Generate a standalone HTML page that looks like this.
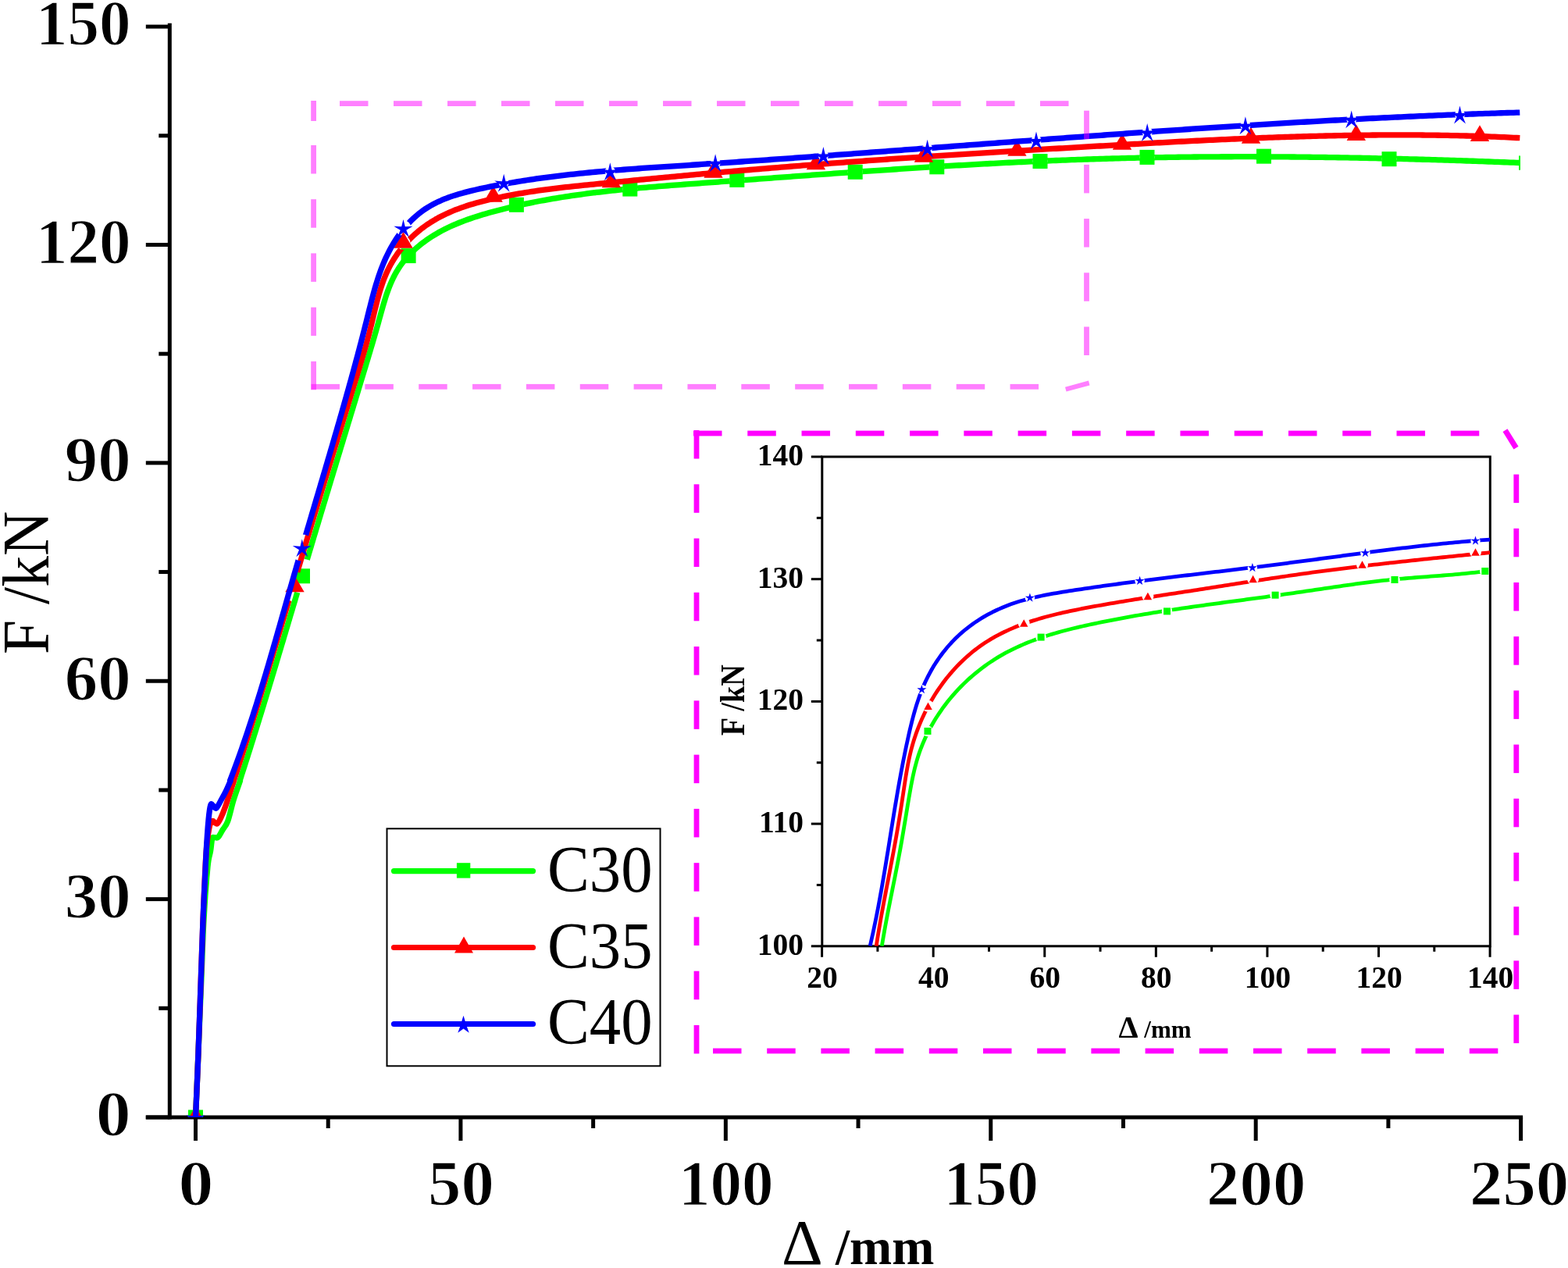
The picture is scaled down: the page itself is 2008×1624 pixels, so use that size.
<!DOCTYPE html><html><head><meta charset="utf-8"><title>F-Δ curves</title><style>html,body{margin:0;padding:0;background:#fff;overflow:hidden;}svg{display:block;}.tb{font-family:"Liberation Serif","Times New Roman",serif;font-weight:bold;}.thin{stroke:#fff;stroke-width:1.3px;paint-order:fill;}.tr{font-family:"Liberation Serif","Times New Roman",serif;font-weight:normal;}</style></head><body>
<svg width="2008" height="1624" viewBox="0 0 2008 1624">
<rect width="2008" height="1624" fill="#fff"/>
<defs><clipPath id="cpMain"><rect x="217" y="0" width="1730" height="1431"/></clipPath><clipPath id="cpIn"><rect x="1052.6" y="585" width="855.6" height="626.8"/></clipPath></defs>
<g stroke="#000" stroke-width="5" fill="none" stroke-linecap="butt">
<line x1="217.3" y1="29.8" x2="217.3" y2="1433.5"/>
<line x1="186.8" y1="1431" x2="1950.1" y2="1431"/>
<line x1="186.8" y1="1431" x2="217.3" y2="1431"/>
<line x1="203.3" y1="1291.31" x2="217.3" y2="1291.31"/>
<line x1="186.8" y1="1151.62" x2="217.3" y2="1151.62"/>
<line x1="203.3" y1="1011.93" x2="217.3" y2="1011.93"/>
<line x1="186.8" y1="872.24" x2="217.3" y2="872.24"/>
<line x1="203.3" y1="732.55" x2="217.3" y2="732.55"/>
<line x1="186.8" y1="592.86" x2="217.3" y2="592.86"/>
<line x1="203.3" y1="453.17" x2="217.3" y2="453.17"/>
<line x1="186.8" y1="313.48" x2="217.3" y2="313.48"/>
<line x1="203.3" y1="173.79" x2="217.3" y2="173.79"/>
<line x1="186.8" y1="34.1" x2="217.3" y2="34.1"/>
<line x1="250.5" y1="1431" x2="250.5" y2="1461"/>
<line x1="420.21" y1="1431" x2="420.21" y2="1445"/>
<line x1="589.92" y1="1431" x2="589.92" y2="1461"/>
<line x1="759.63" y1="1431" x2="759.63" y2="1445"/>
<line x1="929.34" y1="1431" x2="929.34" y2="1461"/>
<line x1="1099.05" y1="1431" x2="1099.05" y2="1445"/>
<line x1="1268.76" y1="1431" x2="1268.76" y2="1461"/>
<line x1="1438.47" y1="1431" x2="1438.47" y2="1445"/>
<line x1="1608.18" y1="1431" x2="1608.18" y2="1461"/>
<line x1="1777.89" y1="1431" x2="1777.89" y2="1445"/>
<line x1="1947.6" y1="1431" x2="1947.6" y2="1461"/>
</g>
<text class="tb thin" font-size="82.3" text-anchor="end" transform="translate(167.6,1454.3) scale(1.09,1)">0</text>
<text class="tb thin" font-size="82.3" text-anchor="end" transform="translate(167.6,1174.92) scale(1.03,1)">30</text>
<text class="tb thin" font-size="82.3" text-anchor="end" transform="translate(167.6,895.54) scale(1.03,1)">60</text>
<text class="tb thin" font-size="82.3" text-anchor="end" transform="translate(167.6,616.16) scale(1.03,1)">90</text>
<text class="tb thin" font-size="82.3" text-anchor="end" transform="translate(167.6,336.78) scale(0.985,1)">120</text>
<text class="tb thin" font-size="82.3" text-anchor="end" transform="translate(167.6,57.4) scale(0.985,1)">150</text>
<text class="tb thin" font-size="82.3" text-anchor="middle" transform="translate(251,1543.4) scale(1.09,1)">0</text>
<text class="tb thin" font-size="82.3" text-anchor="middle" transform="translate(590.42,1543.4) scale(1.03,1)">50</text>
<text class="tb thin" font-size="82.3" text-anchor="middle" transform="translate(929.84,1543.4) scale(0.985,1)">100</text>
<text class="tb thin" font-size="82.3" text-anchor="middle" transform="translate(1269.26,1543.4) scale(0.985,1)">150</text>
<text class="tb thin" font-size="82.3" text-anchor="middle" transform="translate(1608.68,1543.4) scale(1.03,1)">200</text>
<text class="tb thin" font-size="82.3" text-anchor="middle" transform="translate(1945.6,1543.4) scale(1.03,1)">250</text>
<text class="tr" font-size="85.5" transform="translate(61.6,838) rotate(-90) scale(0.93,1)" x="0" y="0">F /kN</text>
<text x="1001" y="1619"><tspan class="tr" font-size="82">Δ</tspan><tspan class="tb" font-size="65"> /mm</tspan></text>
<defs>
<mask id="mg" maskUnits="userSpaceOnUse" x="0" y="0" width="2008" height="1624"><rect width="2008" height="1624" fill="#fff"/><circle cx="387.5" cy="737.8" r="22" fill="#000"/><circle cx="523.1" cy="327.6" r="9.5" fill="#000"/><circle cx="661.4" cy="262.3" r="9.5" fill="#000"/><circle cx="806.8" cy="242.07" r="9.5" fill="#000"/><circle cx="943.8" cy="230.4" r="9.5" fill="#000"/><circle cx="1095.2" cy="220.29" r="9.5" fill="#000"/><circle cx="1199.8" cy="213.81" r="9.5" fill="#000"/><circle cx="1332" cy="206.54" r="9.5" fill="#000"/><circle cx="1469" cy="201.41" r="9.5" fill="#000"/><circle cx="1618.5" cy="200.15" r="9.5" fill="#000"/><circle cx="1779" cy="203.68" r="9.5" fill="#000"/></mask>
<mask id="mr" maskUnits="userSpaceOnUse" x="0" y="0" width="2008" height="1624"><rect width="2008" height="1624" fill="#fff"/><circle cx="377.5" cy="751.5" r="19" fill="#000"/><circle cx="516.5" cy="311" r="9" fill="#000"/><circle cx="631.6" cy="252" r="6" fill="#000"/><circle cx="782.9" cy="233.66" r="6" fill="#000"/><circle cx="913.5" cy="221.05" r="6" fill="#000"/><circle cx="1044.9" cy="210.65" r="6" fill="#000"/><circle cx="1182.9" cy="201" r="6" fill="#000"/><circle cx="1302.4" cy="193.22" r="6" fill="#000"/><circle cx="1437" cy="185.14" r="6" fill="#000"/><circle cx="1602" cy="177.04" r="6" fill="#000"/><circle cx="1736.8" cy="173.24" r="6" fill="#000"/><circle cx="1895" cy="174.36" r="6" fill="#000"/></mask>
<mask id="mb" maskUnits="userSpaceOnUse" x="0" y="0" width="2008" height="1624"><rect width="2008" height="1624" fill="#fff"/><circle cx="386.8" cy="701.5" r="17" fill="#000"/><circle cx="516.5" cy="292.1" r="10" fill="#000"/><circle cx="645.2" cy="233.9" r="6.5" fill="#000"/><circle cx="781.3" cy="219.39" r="6.5" fill="#000"/><circle cx="916.1" cy="208.57" r="6.5" fill="#000"/><circle cx="1054.4" cy="199.19" r="6.5" fill="#000"/><circle cx="1187.6" cy="190.02" r="6.5" fill="#000"/><circle cx="1327" cy="179.79" r="6.5" fill="#000"/><circle cx="1469.2" cy="169.18" r="6.5" fill="#000"/><circle cx="1594.9" cy="160.45" r="6.5" fill="#000"/><circle cx="1730.7" cy="152.58" r="6.5" fill="#000"/><circle cx="1869.5" cy="146.71" r="6.5" fill="#000"/></mask>
<mask id="ig" maskUnits="userSpaceOnUse" x="0" y="0" width="2008" height="1624"><rect width="2008" height="1624" fill="#fff"/><circle cx="1188" cy="936.4" r="6.8" fill="#000"/><circle cx="1333.1" cy="816.1" r="6.8" fill="#000"/><circle cx="1494.5" cy="782.9" r="6.8" fill="#000"/><circle cx="1633.1" cy="762.2" r="6.8" fill="#000"/><circle cx="1786" cy="742.5" r="6.8" fill="#000"/><circle cx="1901.8" cy="731.5" r="6.8" fill="#000"/></mask>
<mask id="ir" maskUnits="userSpaceOnUse" x="0" y="0" width="2008" height="1624"><rect width="2008" height="1624" fill="#fff"/><circle cx="1188.5" cy="904.2" r="7.5" fill="#000"/><circle cx="1311.2" cy="798.1" r="7.5" fill="#000"/><circle cx="1469.9" cy="763.4" r="7.5" fill="#000"/><circle cx="1604.6" cy="741.4" r="7.5" fill="#000"/><circle cx="1744.5" cy="723.1" r="7.5" fill="#000"/><circle cx="1889.5" cy="706.9" r="7.5" fill="#000"/></mask>
<mask id="ib" maskUnits="userSpaceOnUse" x="0" y="0" width="2008" height="1624"><rect width="2008" height="1624" fill="#fff"/><circle cx="1180.4" cy="883.2" r="6.2" fill="#000"/><circle cx="1318.9" cy="765.7" r="6.2" fill="#000"/><circle cx="1459.6" cy="744" r="6.2" fill="#000"/><circle cx="1603.9" cy="727.2" r="6.2" fill="#000"/><circle cx="1748.4" cy="708.2" r="6.2" fill="#000"/><circle cx="1889.5" cy="692.7" r="6.2" fill="#000"/></mask>
</defs>
<g clip-path="url(#cpMain)">
<path d="M250.5,1431 C251.08,1417.17 252.83,1376 254,1348 C255.17,1320 256.33,1291.33 257.5,1263 C258.67,1234.67 259.58,1203.5 261,1178 C262.42,1152.5 264.57,1124.67 266,1110 C267.43,1095.33 268.63,1096 269.6,1090 C270.57,1084 270.9,1076.9 271.8,1074 C272.7,1071.1 273.77,1072.87 275,1072.6 C276.23,1072.33 277.53,1074 279.2,1072.4 C280.87,1070.8 282.92,1066.45 285,1063 C287.08,1059.55 289.37,1058.03 291.7,1051.7 C294.03,1045.37 296.37,1033.62 299,1025 C301.63,1016.38 306.08,1004.17 307.5,1000 L307.06,999.87 L308.3,996.05 L309.53,992.23 L310.76,988.41 L311.99,984.58 L313.22,980.76 L314.44,976.94 L315.66,973.11 L316.88,969.29 L318.09,965.46 L319.3,961.63 L320.51,957.8 L321.71,953.97 L322.91,950.14 L324.11,946.31 L325.31,942.48 L326.51,938.65 L327.7,934.82 L328.89,930.98 L330.08,927.15 L331.26,923.32 L332.44,919.48 L333.63,915.64 L334.8,911.81 L335.98,907.97 L337.16,904.13 L338.33,900.29 L339.5,896.46 L340.67,892.62 L341.84,888.78 L343,884.94 L344.17,881.1 L345.33,877.25 L346.49,873.41 L347.65,869.57 L348.81,865.73 L349.97,861.89 L351.12,858.04 L352.28,854.2 L353.43,850.36 L354.59,846.51 L355.74,842.67 L356.89,838.82 L358.04,834.98 L359.19,831.13 L360.33,827.29 L361.48,823.44 L362.63,819.59 L363.77,815.75 L364.92,811.9 L366.07,808.06 L367.21,804.21 L368.35,800.36 L369.5,796.51 L370.64,792.67 L371.79,788.82 L372.93,784.97 L374.07,781.13 L375.22,777.28 L376.36,773.43 L377.5,769.59 L378.65,765.74 L379.79,761.89 L380.94,758.04 L382.08,754.2 L383.22,750.35 L384.37,746.5 L385.52,742.66 L386.66,738.81 L387.81,734.96 L388.96,731.12 L390.11,727.27 L391.26,723.42 L392.41,719.58 L393.56,715.73 L394.71,711.89 L395.86,708.04 L397.01,704.2 L398.16,700.35 L399.32,696.51 L400.47,692.66 L401.62,688.82 L402.78,684.97 L403.93,681.13 L405.09,677.28 L406.25,673.44 L407.4,669.6 L408.56,665.75 L409.72,661.91 L410.87,658.06 L412.03,654.22 L413.19,650.38 L414.35,646.53 L415.51,642.69 L416.67,638.85 L417.83,635 L418.99,631.16 L420.15,627.32 L421.31,623.48 L422.47,619.63 L423.64,615.79 L424.8,611.95 L425.96,608.11 L427.12,604.27 L428.28,600.42 L429.45,596.58 L430.61,592.74 L431.77,588.9 L432.94,585.06 L434.1,581.22 L435.27,577.37 L436.43,573.53 L437.59,569.69 L438.76,565.85 L439.92,562.01 L441.09,558.17 L442.25,554.33 L443.42,550.49 L444.58,546.65 L445.75,542.81 L446.91,538.97 L448.08,535.13 L449.24,531.29 L450.41,527.45 L451.57,523.61 L452.74,519.77 L453.9,515.93 L455.07,512.09 L456.23,508.25 L457.39,504.41 L458.56,500.57 L459.72,496.73 L460.89,492.89 L462.05,489.05 L463.22,485.21 L464.38,481.37 L465.55,477.54 L466.71,473.7 L467.87,469.86 L469.03,466.02 L470.19,462.18 L471.35,458.33 L472.5,454.49 L473.65,450.64 L474.8,446.79 L475.94,442.94 L477.08,439.09 L478.21,435.23 L479.34,431.37 L480.46,427.51 L481.57,423.64 L482.67,419.76 L483.77,415.88 L484.86,412 L485.94,408.11 L487.01,404.22 L488.09,400.33 L489.17,396.44 L490.28,392.56 L491.4,388.7 L492.56,384.86 L493.76,381.03 L495,377.24 L496.3,373.47 L497.67,369.74 L499.1,366.05 L500.61,362.41 L502.21,358.82 L503.9,355.27 L505.69,351.79 L507.59,348.37 L509.61,345.01 L511.75,341.73 L514.01,338.52 L516.39,335.38 L518.87,332.31 L521.47,329.32 L524.17,326.4 L526.96,323.56 L529.84,320.79 L532.81,318.09 L535.86,315.47 L538.99,312.93 L542.18,310.46 L545.44,308.07 L548.76,305.76 L552.13,303.52 L555.56,301.36 L559.03,299.28 L562.53,297.27 L566.07,295.35 L569.65,293.49 L573.26,291.71 L576.9,290 L580.56,288.35 L584.25,286.77 L587.97,285.25 L591.71,283.78 L595.47,282.36 L599.25,281 L603.05,279.68 L606.86,278.41 L610.69,277.17 L614.54,275.98 L618.39,274.82 L622.25,273.7 L626.12,272.6 L630,271.53 L633.88,270.48 L637.76,269.46 L641.65,268.46 L645.54,267.47 L649.44,266.52 L653.34,265.58 L657.24,264.66 L661.15,263.76 L665.06,262.89 L668.97,262.03 L672.89,261.19 L676.81,260.37 L680.73,259.57 L684.65,258.79 L688.58,258.02 L692.51,257.28 L696.45,256.55 L700.39,255.84 L704.33,255.14 L708.27,254.46 L712.22,253.8 L716.17,253.15 L720.12,252.52 L724.07,251.91 L728.03,251.3 L731.99,250.72 L735.95,250.14 L739.91,249.58 L743.88,249.03 L747.85,248.5 L751.82,247.98 L755.79,247.47 L759.76,246.97 L763.74,246.49 L767.72,246.01 L771.7,245.55 L775.68,245.1 L779.66,244.65 L783.65,244.22 L787.63,243.8 L791.62,243.38 L795.61,242.98 L799.6,242.58 L803.6,242.2 L807.59,241.82 L811.59,241.44 L815.58,241.08 L819.58,240.72 L823.58,240.37 L827.58,240.02 L831.58,239.68 L835.58,239.35 L839.58,239.02 L843.59,238.69 L847.59,238.37 L851.6,238.06 L855.6,237.75 L859.61,237.44 L863.61,237.13 L867.62,236.83 L871.63,236.53 L875.64,236.24 L879.64,235.94 L883.65,235.65 L887.66,235.35 L891.67,235.06 L895.68,234.77 L899.68,234.48 L903.69,234.19 L907.7,233.89 L911.71,233.6 L915.72,233.31 L919.72,233.02 L923.73,232.72 L927.74,232.43 L931.75,232.14 L935.75,231.84 L939.76,231.55 L943.77,231.25 L947.78,230.96 L951.78,230.67 L955.79,230.37 L959.8,230.08 L963.8,229.78 L967.81,229.49 L971.82,229.2 L975.82,228.9 L979.83,228.61 L983.84,228.31 L987.84,228.02 L991.85,227.73 L995.85,227.43 L999.86,227.14 L1003.87,226.85 L1007.87,226.56 L1011.88,226.27 L1015.88,225.97 L1019.89,225.68 L1023.9,225.39 L1027.9,225.1 L1031.91,224.81 L1035.91,224.52 L1039.92,224.23 L1043.92,223.95 L1047.93,223.66 L1051.93,223.37 L1055.94,223.09 L1059.95,222.8 L1063.95,222.52 L1067.96,222.23 L1071.96,221.95 L1075.97,221.66 L1079.97,221.38 L1083.98,221.1 L1087.98,220.82 L1091.99,220.54 L1095.99,220.26 L1100,219.99 L1104,219.71 L1108.01,219.43 L1112.01,219.16 L1116.02,218.89 L1120.02,218.61 L1124.03,218.34 L1128.03,218.07 L1132.04,217.8 L1136.04,217.53 L1140.05,217.27 L1144.05,217 L1148.06,216.74 L1152.07,216.47 L1156.07,216.21 L1160.08,215.95 L1164.08,215.69 L1168.09,215.43 L1172.09,215.18 L1176.1,214.92 L1180.1,214.67 L1184.11,214.42 L1188.11,214.17 L1192.12,213.92 L1196.12,213.67 L1200.13,213.42 L1204.14,213.18 L1208.14,212.94 L1212.15,212.7 L1216.15,212.46 L1220.16,212.22 L1224.16,211.98 L1228.17,211.75 L1232.18,211.52 L1236.18,211.29 L1240.19,211.06 L1244.19,210.83 L1248.2,210.61 L1252.21,210.38 L1256.21,210.16 L1260.22,209.94 L1264.23,209.73 L1268.23,209.51 L1272.24,209.3 L1276.25,209.09 L1280.25,208.88 L1284.26,208.67 L1288.27,208.47 L1292.27,208.27 L1296.28,208.07 L1300.29,207.87 L1304.3,207.67 L1308.3,207.48 L1312.31,207.29 L1316.32,207.1 L1320.33,206.91 L1324.33,206.73 L1328.34,206.55 L1332.35,206.37 L1336.36,206.19 L1340.37,206.02 L1344.37,205.85 L1348.38,205.68 L1352.39,205.51 L1356.4,205.35 L1360.41,205.19 L1364.42,205.03 L1368.43,204.88 L1372.44,204.72 L1376.45,204.57 L1380.46,204.43 L1384.46,204.28 L1388.47,204.14 L1392.48,204 L1396.49,203.87 L1400.5,203.73 L1404.51,203.6 L1408.53,203.48 L1412.54,203.35 L1416.55,203.23 L1420.56,203.11 L1424.57,203 L1428.58,202.89 L1432.59,202.78 L1436.6,202.67 L1440.61,202.57 L1444.63,202.47 L1448.64,202.37 L1452.65,202.28 L1456.66,202.18 L1460.67,202.1 L1464.69,202.01 L1468.7,201.93 L1472.71,201.85 L1476.73,201.77 L1480.74,201.7 L1484.75,201.63 L1488.76,201.56 L1492.78,201.49 L1496.79,201.43 L1500.8,201.37 L1504.82,201.31 L1508.83,201.26 L1512.84,201.2 L1516.86,201.15 L1520.87,201.11 L1524.89,201.06 L1528.9,201.02 L1532.91,200.98 L1536.93,200.95 L1540.94,200.91 L1544.96,200.88 L1548.97,200.85 L1552.99,200.83 L1557,200.81 L1561.01,200.79 L1565.03,200.77 L1569.04,200.75 L1573.06,200.74 L1577.07,200.73 L1581.09,200.72 L1585.1,200.71 L1589.12,200.71 L1593.13,200.71 L1597.15,200.71 L1601.16,200.72 L1605.18,200.72 L1609.19,200.73 L1613.21,200.74 L1617.22,200.76 L1621.24,200.77 L1625.25,200.79 L1629.27,200.81 L1633.28,200.83 L1637.3,200.86 L1641.31,200.89 L1645.33,200.92 L1649.34,200.95 L1653.36,200.98 L1657.37,201.02 L1661.39,201.06 L1665.4,201.1 L1669.42,201.14 L1673.43,201.18 L1677.44,201.23 L1681.46,201.28 L1685.47,201.33 L1689.49,201.38 L1693.5,201.44 L1697.52,201.5 L1701.53,201.56 L1705.55,201.62 L1709.56,201.68 L1713.58,201.75 L1717.59,201.82 L1721.6,201.88 L1725.62,201.96 L1729.63,202.03 L1733.65,202.11 L1737.66,202.18 L1741.68,202.26 L1745.69,202.34 L1749.7,202.43 L1753.72,202.51 L1757.73,202.6 L1761.74,202.69 L1765.76,202.78 L1769.77,202.87 L1773.78,202.96 L1777.8,203.06 L1781.81,203.16 L1785.82,203.26 L1789.84,203.36 L1793.85,203.46 L1797.86,203.56 L1801.87,203.67 L1805.89,203.78 L1809.9,203.89 L1813.91,204 L1817.92,204.11 L1821.93,204.23 L1825.95,204.34 L1829.96,204.46 L1833.97,204.58 L1837.98,204.7 L1841.99,204.82 L1846,204.95 L1850.01,205.07 L1854.02,205.2 L1858.04,205.33 L1862.05,205.46 L1866.06,205.59 L1870.07,205.72 L1874.08,205.86 L1878.09,205.99 L1882.1,206.13 L1886.1,206.27 L1890.11,206.41 L1894.12,206.55 L1898.13,206.69 L1902.14,206.84 L1906.15,206.98 L1910.16,207.13 L1914.17,207.28 L1918.17,207.43 L1922.18,207.58 L1926.19,207.73 L1930.2,207.88 L1934.2,208.04 L1938.21,208.19 L1942.22,208.35 L1946.22,208.51" fill="none" stroke="#00ff00" stroke-width="7.3" stroke-linejoin="round" stroke-linecap="butt" mask="url(#mg)"/>
<rect x="241" y="1421.5" width="19" height="19" fill="#00ff00"/>
<rect x="378" y="728.3" width="19" height="19" fill="#00ff00"/>
<rect x="513.6" y="318.1" width="19" height="19" fill="#00ff00"/>
<rect x="651.9" y="252.8" width="19" height="19" fill="#00ff00"/>
<rect x="797.3" y="232.57" width="19" height="19" fill="#00ff00"/>
<rect x="934.3" y="220.9" width="19" height="19" fill="#00ff00"/>
<rect x="1085.7" y="210.79" width="19" height="19" fill="#00ff00"/>
<rect x="1190.3" y="204.31" width="19" height="19" fill="#00ff00"/>
<rect x="1322.5" y="197.04" width="19" height="19" fill="#00ff00"/>
<rect x="1459.5" y="191.91" width="19" height="19" fill="#00ff00"/>
<rect x="1609" y="190.65" width="19" height="19" fill="#00ff00"/>
<rect x="1769.5" y="194.18" width="19" height="19" fill="#00ff00"/>
<path d="M250.5,1431 C251.08,1417.17 252.92,1376 254,1348 C255.08,1320 256,1291.33 257,1263 C258,1234.67 258.83,1206.33 260,1178 C261.17,1149.67 262.67,1112.67 264,1093 C265.33,1073.33 266.7,1066.88 268,1060 C269.3,1053.12 270.63,1052.78 271.8,1051.7 C272.97,1050.62 273.9,1053 275,1053.5 C276.1,1054 277.07,1055.78 278.4,1054.7 C279.73,1053.62 281.23,1050.78 283,1047 C284.77,1043.22 286.25,1039.83 289,1032 C291.75,1024.17 297.75,1005.33 299.5,1000 L299.32,999.99 L300.58,996.17 L301.83,992.35 L303.07,988.52 L304.31,984.7 L305.55,980.87 L306.78,977.04 L308.01,973.21 L309.23,969.39 L310.45,965.56 L311.67,961.73 L312.88,957.9 L314.09,954.07 L315.3,950.23 L316.5,946.4 L317.7,942.57 L318.9,938.74 L320.09,934.9 L321.28,931.07 L322.47,927.23 L323.65,923.4 L324.84,919.56 L326.02,915.72 L327.19,911.88 L328.37,908.05 L329.54,904.21 L330.71,900.37 L331.88,896.53 L333.04,892.69 L334.21,888.85 L335.37,885.01 L336.53,881.17 L337.68,877.33 L338.84,873.48 L339.99,869.64 L341.15,865.8 L342.3,861.95 L343.45,858.11 L344.6,854.27 L345.74,850.42 L346.89,846.58 L348.03,842.73 L349.18,838.89 L350.32,835.04 L351.46,831.2 L352.6,827.35 L353.74,823.5 L354.88,819.66 L356.02,815.81 L357.16,811.96 L358.3,808.11 L359.44,804.27 L360.57,800.42 L361.71,796.57 L362.85,792.72 L363.99,788.87 L365.13,785.03 L366.26,781.18 L367.4,777.33 L368.54,773.48 L369.68,769.63 L370.82,765.78 L371.96,761.93 L373.1,758.09 L374.24,754.24 L375.38,750.39 L376.53,746.54 L377.67,742.69 L378.82,738.84 L379.96,734.99 L381.11,731.14 L382.26,727.29 L383.41,723.44 L384.56,719.59 L385.71,715.75 L386.86,711.9 L388.01,708.05 L389.16,704.2 L390.32,700.35 L391.47,696.5 L392.63,692.66 L393.78,688.81 L394.94,684.96 L396.1,681.11 L397.26,677.26 L398.42,673.42 L399.58,669.57 L400.74,665.72 L401.9,661.88 L403.06,658.03 L404.22,654.18 L405.38,650.34 L406.55,646.49 L407.71,642.65 L408.88,638.8 L410.04,634.96 L411.21,631.11 L412.37,627.27 L413.54,623.43 L414.71,619.58 L415.87,615.74 L417.04,611.9 L418.21,608.06 L419.38,604.22 L420.55,600.37 L421.72,596.53 L422.89,592.69 L424.06,588.85 L425.23,585.01 L426.4,581.18 L427.58,577.34 L428.75,573.5 L429.92,569.66 L431.09,565.83 L432.27,561.99 L433.44,558.15 L434.62,554.32 L435.79,550.48 L436.96,546.65 L438.14,542.82 L439.31,538.98 L440.49,535.15 L441.67,531.32 L442.84,527.49 L444.02,523.66 L445.19,519.83 L446.37,516 L447.55,512.17 L448.72,508.35 L449.9,504.52 L451.08,500.69 L452.25,496.87 L453.43,493.04 L454.61,489.22 L455.78,485.4 L456.96,481.57 L458.13,477.75 L459.3,473.92 L460.46,470.09 L461.62,466.26 L462.77,462.43 L463.91,458.58 L465.04,454.74 L466.17,450.88 L467.27,447.02 L468.37,443.15 L469.45,439.28 L470.52,435.39 L471.56,431.49 L472.6,427.58 L473.61,423.66 L474.6,419.73 L475.57,415.78 L476.52,411.82 L477.47,407.86 L478.41,403.89 L479.36,399.93 L480.32,395.97 L481.29,392.01 L482.28,388.07 L483.31,384.14 L484.36,380.22 L485.46,376.33 L486.61,372.46 L487.8,368.62 L489.06,364.82 L490.38,361.04 L491.78,357.31 L493.25,353.62 L494.81,349.97 L496.46,346.37 L498.2,342.82 L500.04,339.33 L501.98,335.89 L504.01,332.51 L506.13,329.19 L508.34,325.93 L510.64,322.73 L513.03,319.6 L515.5,316.52 L518.05,313.52 L520.68,310.58 L523.38,307.7 L526.16,304.9 L529.02,302.17 L531.94,299.51 L534.94,296.93 L538,294.42 L541.12,291.99 L544.31,289.63 L547.55,287.36 L550.86,285.17 L554.22,283.06 L557.63,281.03 L561.1,279.08 L564.61,277.22 L568.17,275.43 L571.78,273.71 L575.42,272.07 L579.11,270.5 L582.83,268.99 L586.58,267.55 L590.37,266.17 L594.18,264.84 L598.02,263.57 L601.88,262.35 L605.76,261.18 L609.66,260.06 L613.58,258.99 L617.51,257.95 L621.45,256.96 L625.39,256 L629.34,255.07 L633.3,254.17 L637.25,253.3 L641.21,252.46 L645.17,251.65 L649.12,250.86 L653.08,250.1 L657.04,249.36 L661,248.65 L664.96,247.95 L668.92,247.28 L672.88,246.63 L676.85,246.01 L680.81,245.4 L684.77,244.81 L688.74,244.23 L692.7,243.68 L696.67,243.14 L700.64,242.61 L704.61,242.1 L708.58,241.6 L712.55,241.12 L716.52,240.65 L720.49,240.19 L724.47,239.74 L728.44,239.3 L732.41,238.87 L736.39,238.45 L740.37,238.03 L744.35,237.62 L748.32,237.22 L752.3,236.82 L756.29,236.42 L760.27,236.03 L764.25,235.64 L768.23,235.25 L772.22,234.86 L776.21,234.48 L780.19,234.09 L784.18,233.7 L788.17,233.31 L792.16,232.93 L796.15,232.54 L800.14,232.15 L804.13,231.76 L808.13,231.38 L812.12,230.99 L816.12,230.61 L820.11,230.22 L824.11,229.84 L828.1,229.45 L832.1,229.07 L836.1,228.69 L840.1,228.3 L844.1,227.92 L848.1,227.54 L852.09,227.16 L856.09,226.79 L860.1,226.41 L864.1,226.04 L868.1,225.66 L872.1,225.29 L876.1,224.92 L880.1,224.55 L884.1,224.18 L888.1,223.81 L892.11,223.45 L896.11,223.08 L900.11,222.72 L904.11,222.36 L908.11,222 L912.11,221.64 L916.12,221.29 L920.12,220.94 L924.12,220.58 L928.12,220.23 L932.13,219.89 L936.13,219.54 L940.13,219.19 L944.13,218.85 L948.13,218.51 L952.14,218.17 L956.14,217.83 L960.14,217.49 L964.14,217.15 L968.15,216.82 L972.15,216.49 L976.15,216.15 L980.15,215.82 L984.16,215.5 L988.16,215.17 L992.16,214.84 L996.16,214.52 L1000.17,214.2 L1004.17,213.87 L1008.17,213.55 L1012.17,213.24 L1016.18,212.92 L1020.18,212.6 L1024.18,212.29 L1028.19,211.98 L1032.19,211.66 L1036.19,211.35 L1040.2,211.05 L1044.2,210.74 L1048.2,210.43 L1052.21,210.13 L1056.21,209.82 L1060.21,209.52 L1064.22,209.22 L1068.22,208.92 L1072.22,208.62 L1076.23,208.33 L1080.23,208.03 L1084.23,207.73 L1088.24,207.44 L1092.24,207.15 L1096.24,206.86 L1100.25,206.57 L1104.25,206.28 L1108.26,205.99 L1112.26,205.7 L1116.26,205.42 L1120.27,205.14 L1124.27,204.85 L1128.28,204.57 L1132.28,204.29 L1136.28,204.01 L1140.29,203.73 L1144.29,203.45 L1148.3,203.18 L1152.3,202.9 L1156.31,202.63 L1160.31,202.35 L1164.31,202.08 L1168.32,201.81 L1172.32,201.54 L1176.33,201.27 L1180.33,201 L1184.34,200.73 L1188.34,200.47 L1192.35,200.2 L1196.35,199.94 L1200.36,199.67 L1204.36,199.41 L1208.37,199.15 L1212.37,198.89 L1216.38,198.63 L1220.38,198.37 L1224.39,198.11 L1228.39,197.85 L1232.4,197.6 L1236.41,197.34 L1240.41,197.09 L1244.42,196.83 L1248.42,196.58 L1252.43,196.33 L1256.43,196.08 L1260.44,195.83 L1264.45,195.58 L1268.45,195.33 L1272.46,195.08 L1276.46,194.83 L1280.47,194.58 L1284.48,194.34 L1288.48,194.09 L1292.49,193.84 L1296.5,193.6 L1300.5,193.36 L1304.51,193.11 L1308.52,192.87 L1312.52,192.63 L1316.53,192.39 L1320.54,192.15 L1324.54,191.91 L1328.55,191.67 L1332.56,191.43 L1336.56,191.19 L1340.57,190.95 L1344.58,190.72 L1348.59,190.48 L1352.59,190.25 L1356.6,190.01 L1360.61,189.78 L1364.62,189.54 L1368.62,189.31 L1372.63,189.07 L1376.64,188.84 L1380.65,188.61 L1384.65,188.38 L1388.66,188.15 L1392.67,187.91 L1396.68,187.68 L1400.69,187.45 L1404.69,187.22 L1408.7,186.99 L1412.71,186.77 L1416.72,186.54 L1420.73,186.31 L1424.74,186.08 L1428.75,185.85 L1432.75,185.63 L1436.76,185.4 L1440.77,185.17 L1444.78,184.95 L1448.79,184.73 L1452.8,184.5 L1456.81,184.28 L1460.82,184.06 L1464.83,183.84 L1468.84,183.61 L1472.85,183.4 L1476.85,183.18 L1480.86,182.96 L1484.87,182.74 L1488.88,182.53 L1492.89,182.31 L1496.9,182.1 L1500.91,181.89 L1504.92,181.68 L1508.93,181.47 L1512.94,181.26 L1516.95,181.06 L1520.96,180.85 L1524.97,180.65 L1528.98,180.45 L1532.99,180.25 L1537,180.05 L1541.02,179.85 L1545.03,179.66 L1549.04,179.47 L1553.05,179.28 L1557.06,179.09 L1561.07,178.9 L1565.08,178.71 L1569.09,178.53 L1573.1,178.35 L1577.11,178.17 L1581.12,177.99 L1585.14,177.82 L1589.15,177.65 L1593.16,177.48 L1597.17,177.31 L1601.18,177.14 L1605.19,176.98 L1609.2,176.82 L1613.21,176.66 L1617.23,176.51 L1621.24,176.35 L1625.25,176.2 L1629.26,176.06 L1633.27,175.91 L1637.29,175.77 L1641.3,175.63 L1645.31,175.49 L1649.32,175.36 L1653.33,175.23 L1657.35,175.1 L1661.36,174.98 L1665.37,174.86 L1669.38,174.74 L1673.4,174.62 L1677.41,174.51 L1681.42,174.4 L1685.43,174.3 L1689.45,174.19 L1693.46,174.1 L1697.47,174 L1701.48,173.91 L1705.5,173.82 L1709.51,173.74 L1713.52,173.66 L1717.53,173.58 L1721.55,173.51 L1725.56,173.44 L1729.57,173.37 L1733.59,173.31 L1737.6,173.25 L1741.61,173.2 L1745.63,173.14 L1749.64,173.1 L1753.65,173.06 L1757.67,173.02 L1761.68,172.98 L1765.69,172.95 L1769.71,172.93 L1773.72,172.91 L1777.73,172.89 L1781.75,172.88 L1785.76,172.87 L1789.77,172.87 L1793.79,172.87 L1797.8,172.87 L1801.82,172.88 L1805.83,172.9 L1809.84,172.92 L1813.86,172.94 L1817.87,172.97 L1821.89,173 L1825.9,173.04 L1829.91,173.09 L1833.93,173.13 L1837.94,173.19 L1841.96,173.25 L1845.97,173.31 L1849.99,173.38 L1854,173.45 L1858.01,173.53 L1862.03,173.62 L1866.04,173.71 L1870.06,173.8 L1874.07,173.9 L1878.09,174.01 L1882.1,174.12 L1886.12,174.23 L1890.13,174.36 L1894.14,174.49 L1898.16,174.62 L1902.17,174.76 L1906.19,174.9 L1910.2,175.06 L1914.22,175.21 L1918.23,175.37 L1922.25,175.54 L1926.26,175.72 L1930.28,175.9 L1934.29,176.09 L1938.31,176.28 L1942.32,176.48 L1946.34,176.68" fill="none" stroke="#ff0000" stroke-width="7.3" stroke-linejoin="round" stroke-linecap="butt" mask="url(#mr)"/>
<path d="M250.5,1416.95 L262.7,1437.65 L238.3,1437.65 Z" fill="#ff0000"/>
<path d="M377.5,737.45 L389.7,758.15 L365.3,758.15 Z" fill="#ff0000"/>
<path d="M516.5,296.95 L528.7,317.65 L504.3,317.65 Z" fill="#ff0000"/>
<path d="M631.6,237.95 L643.8,258.65 L619.4,258.65 Z" fill="#ff0000"/>
<path d="M782.9,219.61 L795.1,240.31 L770.7,240.31 Z" fill="#ff0000"/>
<path d="M913.5,207 L925.7,227.7 L901.3,227.7 Z" fill="#ff0000"/>
<path d="M1044.9,196.6 L1057.1,217.3 L1032.7,217.3 Z" fill="#ff0000"/>
<path d="M1182.9,186.95 L1195.1,207.65 L1170.7,207.65 Z" fill="#ff0000"/>
<path d="M1302.4,179.17 L1314.6,199.87 L1290.2,199.87 Z" fill="#ff0000"/>
<path d="M1437,171.09 L1449.2,191.79 L1424.8,191.79 Z" fill="#ff0000"/>
<path d="M1602,162.99 L1614.2,183.69 L1589.8,183.69 Z" fill="#ff0000"/>
<path d="M1736.8,159.19 L1749,179.89 L1724.6,179.89 Z" fill="#ff0000"/>
<path d="M1895,160.31 L1907.2,181.01 L1882.8,181.01 Z" fill="#ff0000"/>
<path d="M250.5,1431 C251.08,1417.17 252.92,1376 254,1348 C255.08,1320 256,1291.33 257,1263 C258,1234.67 258.83,1206.33 260,1178 C261.17,1149.67 262.83,1114.33 264,1093 C265.17,1071.67 266.03,1060.33 267,1050 C267.97,1039.67 268.8,1034 269.8,1031 C270.8,1028 271.8,1031.33 273,1032 C274.2,1032.67 275.33,1036.17 277,1035 C278.67,1033.83 280.93,1028.67 283,1025 C285.07,1021.33 287.37,1017.17 289.4,1013 C291.43,1008.83 294.23,1002.17 295.2,1000 L294.56,999.86 L296,996.1 L297.42,992.34 L298.84,988.58 L300.24,984.81 L301.63,981.04 L303.01,977.26 L304.38,973.49 L305.74,969.71 L307.09,965.93 L308.43,962.14 L309.76,958.35 L311.07,954.56 L312.38,950.77 L313.68,946.97 L314.97,943.18 L316.25,939.38 L317.52,935.57 L318.78,931.77 L320.04,927.96 L321.28,924.15 L322.52,920.34 L323.75,916.53 L324.97,912.71 L326.19,908.89 L327.4,905.07 L328.6,901.25 L329.79,897.43 L330.98,893.6 L332.16,889.78 L333.34,885.95 L334.51,882.12 L335.67,878.29 L336.83,874.45 L337.99,870.62 L339.14,866.78 L340.28,862.94 L341.42,859.11 L342.56,855.27 L343.69,851.42 L344.81,847.58 L345.94,843.74 L347.06,839.89 L348.18,836.05 L349.29,832.2 L350.4,828.35 L351.51,824.5 L352.62,820.66 L353.72,816.81 L354.82,812.95 L355.92,809.1 L357.02,805.25 L358.12,801.4 L359.22,797.55 L360.31,793.69 L361.41,789.84 L362.5,785.99 L363.6,782.13 L364.69,778.28 L365.78,774.42 L366.88,770.57 L367.98,766.71 L369.07,762.86 L370.17,759 L371.27,755.15 L372.37,751.29 L373.47,747.44 L374.58,743.58 L375.68,739.73 L376.79,735.88 L377.9,732.02 L379.01,728.17 L380.13,724.32 L381.25,720.46 L382.37,716.61 L383.49,712.76 L384.61,708.91 L385.74,705.06 L386.86,701.21 L387.99,697.36 L389.12,693.51 L390.25,689.66 L391.38,685.81 L392.52,681.96 L393.65,678.11 L394.79,674.26 L395.92,670.41 L397.06,666.56 L398.2,662.72 L399.33,658.87 L400.47,655.02 L401.61,651.17 L402.75,647.33 L403.89,643.48 L405.03,639.63 L406.17,635.79 L407.31,631.94 L408.45,628.1 L409.59,624.25 L410.72,620.4 L411.86,616.56 L413,612.71 L414.13,608.87 L415.27,605.02 L416.4,601.18 L417.54,597.33 L418.67,593.49 L419.8,589.64 L420.93,585.8 L422.06,581.96 L423.19,578.11 L424.31,574.27 L425.44,570.42 L426.56,566.58 L427.68,562.74 L428.8,558.89 L429.92,555.05 L431.03,551.21 L432.14,547.36 L433.25,543.52 L434.36,539.68 L435.46,535.83 L436.57,531.99 L437.67,528.15 L438.76,524.3 L439.86,520.46 L440.95,516.62 L442.03,512.77 L443.12,508.93 L444.2,505.09 L445.28,501.25 L446.35,497.4 L447.42,493.56 L448.49,489.72 L449.55,485.87 L450.61,482.03 L451.67,478.19 L452.72,474.34 L453.76,470.5 L454.81,466.65 L455.85,462.8 L456.88,458.95 L457.91,455.1 L458.94,451.24 L459.96,447.38 L460.98,443.51 L462,439.64 L463.01,435.76 L464.02,431.87 L465.02,427.98 L466.02,424.07 L467.02,420.16 L468.01,416.24 L469,412.31 L469.99,408.37 L470.97,404.42 L471.95,400.46 L472.93,396.5 L473.93,392.53 L474.93,388.56 L475.95,384.59 L476.99,380.62 L478.05,376.66 L479.14,372.71 L480.25,368.78 L481.41,364.85 L482.6,360.94 L483.83,357.06 L485.11,353.19 L486.44,349.35 L487.83,345.53 L489.27,341.74 L490.77,337.99 L492.34,334.27 L493.98,330.58 L495.69,326.94 L497.47,323.34 L499.32,319.78 L501.24,316.28 L503.24,312.82 L505.3,309.43 L507.44,306.09 L509.65,302.81 L511.93,299.6 L514.29,296.46 L516.71,293.39 L519.21,290.4 L521.79,287.49 L524.43,284.65 L527.15,281.9 L529.94,279.24 L532.81,276.67 L535.75,274.2 L538.77,271.82 L541.86,269.55 L545.02,267.38 L548.26,265.31 L551.57,263.35 L554.95,261.49 L558.4,259.73 L561.9,258.06 L565.47,256.47 L569.08,254.97 L572.75,253.54 L576.46,252.19 L580.21,250.91 L584,249.69 L587.83,248.53 L591.69,247.42 L595.57,246.36 L599.48,245.35 L603.41,244.39 L607.35,243.45 L611.31,242.55 L615.27,241.68 L619.24,240.83 L623.21,240 L627.18,239.19 L631.15,238.39 L635.13,237.62 L639.1,236.86 L643.07,236.11 L647.05,235.39 L651.03,234.68 L655,233.98 L658.98,233.31 L662.96,232.64 L666.94,232 L670.91,231.36 L674.89,230.74 L678.88,230.14 L682.86,229.55 L686.84,228.97 L690.82,228.41 L694.8,227.86 L698.79,227.33 L702.77,226.8 L706.76,226.29 L710.74,225.79 L714.73,225.3 L718.71,224.82 L722.7,224.36 L726.69,223.9 L730.68,223.46 L734.67,223.03 L738.65,222.6 L742.64,222.19 L746.63,221.78 L750.62,221.39 L754.61,221 L758.61,220.62 L762.6,220.25 L766.59,219.89 L770.58,219.53 L774.57,219.18 L778.57,218.84 L782.56,218.51 L786.55,218.18 L790.55,217.86 L794.54,217.55 L798.53,217.24 L802.53,216.93 L806.52,216.63 L810.52,216.34 L814.51,216.05 L818.51,215.76 L822.51,215.48 L826.5,215.2 L830.5,214.93 L834.49,214.66 L838.49,214.39 L842.49,214.12 L846.48,213.85 L850.48,213.59 L854.48,213.33 L858.47,213.07 L862.47,212.81 L866.47,212.55 L870.47,212.29 L874.46,212.04 L878.46,211.78 L882.46,211.52 L886.45,211.26 L890.45,211 L894.45,210.74 L898.44,210.47 L902.44,210.21 L906.44,209.95 L910.44,209.68 L914.43,209.42 L918.43,209.15 L922.43,208.88 L926.42,208.61 L930.42,208.34 L934.42,208.07 L938.41,207.8 L942.41,207.53 L946.41,207.26 L950.41,206.99 L954.4,206.71 L958.4,206.44 L962.4,206.16 L966.39,205.88 L970.39,205.61 L974.39,205.33 L978.38,205.05 L982.38,204.77 L986.38,204.49 L990.37,204.21 L994.37,203.93 L998.37,203.65 L1002.36,203.37 L1006.36,203.08 L1010.36,202.8 L1014.35,202.52 L1018.35,202.23 L1022.35,201.95 L1026.35,201.66 L1030.34,201.37 L1034.34,201.09 L1038.34,200.8 L1042.33,200.51 L1046.33,200.22 L1050.33,199.93 L1054.32,199.64 L1058.32,199.35 L1062.32,199.06 L1066.31,198.77 L1070.31,198.48 L1074.31,198.19 L1078.3,197.9 L1082.3,197.6 L1086.3,197.31 L1090.29,197.02 L1094.29,196.72 L1098.29,196.43 L1102.28,196.13 L1106.28,195.84 L1110.28,195.54 L1114.27,195.25 L1118.27,194.95 L1122.27,194.66 L1126.26,194.36 L1130.26,194.06 L1134.26,193.77 L1138.25,193.47 L1142.25,193.17 L1146.25,192.87 L1150.25,192.57 L1154.24,192.28 L1158.24,191.98 L1162.24,191.68 L1166.23,191.38 L1170.23,191.08 L1174.23,190.78 L1178.22,190.48 L1182.22,190.19 L1186.22,189.89 L1190.21,189.59 L1194.21,189.29 L1198.21,188.99 L1202.21,188.69 L1206.2,188.39 L1210.2,188.09 L1214.2,187.79 L1218.19,187.49 L1222.19,187.19 L1226.19,186.89 L1230.18,186.59 L1234.18,186.29 L1238.18,185.99 L1242.18,185.69 L1246.17,185.39 L1250.17,185.09 L1254.17,184.79 L1258.16,184.49 L1262.16,184.19 L1266.16,183.89 L1270.16,183.59 L1274.15,183.29 L1278.15,183 L1282.15,182.7 L1286.15,182.4 L1290.14,182.1 L1294.14,181.8 L1298.14,181.5 L1302.13,181.21 L1306.13,180.91 L1310.13,180.61 L1314.13,180.31 L1318.12,180.02 L1322.12,179.72 L1326.12,179.42 L1330.12,179.13 L1334.11,178.83 L1338.11,178.54 L1342.11,178.24 L1346.11,177.95 L1350.11,177.65 L1354.1,177.36 L1358.1,177.07 L1362.1,176.77 L1366.1,176.48 L1370.09,176.19 L1374.09,175.9 L1378.09,175.6 L1382.09,175.31 L1386.09,175.02 L1390.08,174.73 L1394.08,174.44 L1398.08,174.15 L1402.08,173.86 L1406.08,173.58 L1410.07,173.29 L1414.07,173 L1418.07,172.71 L1422.07,172.43 L1426.07,172.14 L1430.07,171.86 L1434.06,171.57 L1438.06,171.29 L1442.06,171.01 L1446.06,170.72 L1450.06,170.44 L1454.06,170.16 L1458.05,169.88 L1462.05,169.6 L1466.05,169.32 L1470.05,169.04 L1474.05,168.76 L1478.05,168.49 L1482.05,168.21 L1486.05,167.93 L1490.04,167.66 L1494.04,167.39 L1498.04,167.11 L1502.04,166.84 L1506.04,166.57 L1510.04,166.3 L1514.04,166.03 L1518.04,165.76 L1522.04,165.49 L1526.04,165.22 L1530.04,164.95 L1534.04,164.69 L1538.03,164.42 L1542.03,164.16 L1546.03,163.89 L1550.03,163.63 L1554.03,163.37 L1558.03,163.11 L1562.03,162.85 L1566.03,162.59 L1570.03,162.33 L1574.03,162.08 L1578.03,161.82 L1582.03,161.57 L1586.03,161.31 L1590.03,161.06 L1594.03,160.81 L1598.03,160.56 L1602.03,160.31 L1606.03,160.06 L1610.03,159.81 L1614.03,159.56 L1618.03,159.32 L1622.03,159.08 L1626.03,158.83 L1630.03,158.59 L1634.03,158.35 L1638.03,158.11 L1642.03,157.87 L1646.04,157.63 L1650.04,157.4 L1654.04,157.16 L1658.04,156.93 L1662.04,156.7 L1666.04,156.47 L1670.04,156.24 L1674.04,156.01 L1678.04,155.78 L1682.04,155.55 L1686.05,155.33 L1690.05,155.11 L1694.05,154.88 L1698.05,154.66 L1702.05,154.44 L1706.05,154.23 L1710.05,154.01 L1714.06,153.79 L1718.06,153.58 L1722.06,153.37 L1726.06,153.16 L1730.06,152.95 L1734.06,152.74 L1738.07,152.53 L1742.07,152.33 L1746.07,152.12 L1750.07,151.92 L1754.08,151.72 L1758.08,151.52 L1762.08,151.32 L1766.08,151.12 L1770.09,150.93 L1774.09,150.74 L1778.09,150.54 L1782.09,150.35 L1786.1,150.17 L1790.1,149.98 L1794.1,149.79 L1798.11,149.61 L1802.11,149.43 L1806.11,149.25 L1810.11,149.07 L1814.12,148.89 L1818.12,148.71 L1822.12,148.54 L1826.13,148.37 L1830.13,148.2 L1834.14,148.03 L1838.14,147.86 L1842.14,147.7 L1846.15,147.53 L1850.15,147.37 L1854.15,147.21 L1858.16,147.05 L1862.16,146.9 L1866.17,146.74 L1870.17,146.59 L1874.18,146.44 L1878.18,146.29 L1882.18,146.14 L1886.19,145.99 L1890.19,145.85 L1894.2,145.71 L1898.2,145.57 L1902.21,145.43 L1906.21,145.3 L1910.22,145.16 L1914.22,145.03 L1918.23,144.9 L1922.23,144.77 L1926.24,144.64 L1930.24,144.52 L1934.25,144.4 L1938.26,144.28 L1942.26,144.16 L1946.27,144.04" fill="none" stroke="#0000ff" stroke-width="7.3" stroke-linejoin="round" stroke-linecap="butt" mask="url(#mb)"/>
<path d="M250.5,1419.8 L252.85,1429.26 L262.58,1428.58 L254.3,1433.74 L257.96,1442.77 L250.5,1436.5 L243.04,1442.77 L246.7,1433.74 L238.42,1428.58 L248.15,1429.26 Z" fill="#0000ff"/>
<path d="M386.8,690.3 L389.15,699.76 L398.88,699.08 L390.6,704.24 L394.26,713.27 L386.8,707 L379.34,713.27 L383,704.24 L374.72,699.08 L384.45,699.76 Z" fill="#0000ff"/>
<path d="M516.5,280.9 L518.85,290.36 L528.58,289.68 L520.3,294.84 L523.96,303.87 L516.5,297.6 L509.04,303.87 L512.7,294.84 L504.42,289.68 L514.15,290.36 Z" fill="#0000ff"/>
<path d="M645.2,222.7 L647.55,232.16 L657.28,231.48 L649,236.64 L652.66,245.67 L645.2,239.4 L637.74,245.67 L641.4,236.64 L633.12,231.48 L642.85,232.16 Z" fill="#0000ff"/>
<path d="M781.3,208.19 L783.65,217.66 L793.38,216.97 L785.1,222.13 L788.76,231.17 L781.3,224.89 L773.84,231.17 L777.5,222.13 L769.22,216.97 L778.95,217.66 Z" fill="#0000ff"/>
<path d="M916.1,197.37 L918.45,206.84 L928.18,206.15 L919.9,211.31 L923.56,220.35 L916.1,214.07 L908.64,220.35 L912.3,211.31 L904.02,206.15 L913.75,206.84 Z" fill="#0000ff"/>
<path d="M1054.4,187.99 L1056.75,197.45 L1066.48,196.77 L1058.2,201.93 L1061.86,210.96 L1054.4,204.69 L1046.94,210.96 L1050.6,201.93 L1042.32,196.77 L1052.05,197.45 Z" fill="#0000ff"/>
<path d="M1187.6,178.82 L1189.95,188.28 L1199.68,187.6 L1191.4,192.76 L1195.06,201.79 L1187.6,195.52 L1180.14,201.79 L1183.8,192.76 L1175.52,187.6 L1185.25,188.28 Z" fill="#0000ff"/>
<path d="M1327,168.59 L1329.35,178.06 L1339.08,177.37 L1330.8,182.53 L1334.46,191.57 L1327,185.29 L1319.54,191.57 L1323.2,182.53 L1314.92,177.37 L1324.65,178.06 Z" fill="#0000ff"/>
<path d="M1469.2,157.98 L1471.55,167.44 L1481.28,166.75 L1473,171.91 L1476.66,180.95 L1469.2,174.68 L1461.74,180.95 L1465.4,171.91 L1457.12,166.75 L1466.85,167.44 Z" fill="#0000ff"/>
<path d="M1594.9,149.25 L1597.25,158.72 L1606.98,158.03 L1598.7,163.19 L1602.36,172.23 L1594.9,165.95 L1587.44,172.23 L1591.1,163.19 L1582.82,158.03 L1592.55,158.72 Z" fill="#0000ff"/>
<path d="M1730.7,141.38 L1733.05,150.84 L1742.78,150.16 L1734.5,155.32 L1738.16,164.36 L1730.7,158.08 L1723.24,164.36 L1726.9,155.32 L1718.62,150.16 L1728.35,150.84 Z" fill="#0000ff"/>
<path d="M1869.5,135.51 L1871.85,144.97 L1881.58,144.28 L1873.3,149.44 L1876.96,158.48 L1869.5,152.21 L1862.04,158.48 L1865.7,149.44 L1857.42,144.28 L1867.15,144.97 Z" fill="#0000ff"/>
</g>
<line x1="1946" y1="199.4" x2="1946" y2="217.8" stroke="#00ff00" stroke-width="2"/>
<rect x="495.5" y="1061.3" width="350" height="304" fill="none" stroke="#000" stroke-width="2"/>
<line x1="504.5" y1="1115.6" x2="682.5" y2="1115.6" stroke="#00ff00" stroke-width="7.2" stroke-linecap="round"/>
<rect x="584.9" y="1105.2" width="17.4" height="19.4" fill="#00ff00"/>
<text class="tr" font-size="85" transform="translate(701,1142.2) scale(0.95,1)">C30</text>
<line x1="504.5" y1="1213.5" x2="682.5" y2="1213.5" stroke="#ff0000" stroke-width="7.2" stroke-linecap="round"/>
<path d="M594,1199.5 L606,1220.5 L582,1220.5 Z" fill="#ff0000"/>
<text class="tr" font-size="85" transform="translate(701,1239.6) scale(0.95,1)">C35</text>
<line x1="504.5" y1="1311.5" x2="682.5" y2="1311.5" stroke="#0000ff" stroke-width="7.2" stroke-linecap="round"/>
<path d="M593.5,1300.8 L596.15,1309.36 L605.1,1309.23 L597.78,1314.39 L600.67,1322.87 L593.5,1317.5 L586.33,1322.87 L589.22,1314.39 L581.9,1309.23 L590.85,1309.36 Z" fill="#0000ff"/>
<text class="tr" font-size="85" transform="translate(701,1336.6) scale(0.95,1)">C40</text>
<g stroke="#000" stroke-width="3" fill="none">
<rect x="1052.8" y="585" width="855.5" height="626.8"/>
<line x1="1038.8" y1="1211.8" x2="1052.8" y2="1211.8"/>
<line x1="1045.8" y1="1133.45" x2="1052.8" y2="1133.45"/>
<line x1="1038.8" y1="1055.1" x2="1052.8" y2="1055.1"/>
<line x1="1045.8" y1="976.75" x2="1052.8" y2="976.75"/>
<line x1="1038.8" y1="898.4" x2="1052.8" y2="898.4"/>
<line x1="1045.8" y1="820.05" x2="1052.8" y2="820.05"/>
<line x1="1038.8" y1="741.7" x2="1052.8" y2="741.7"/>
<line x1="1045.8" y1="663.35" x2="1052.8" y2="663.35"/>
<line x1="1038.8" y1="585" x2="1052.8" y2="585"/>
<line x1="1052.6" y1="1211.8" x2="1052.6" y2="1225.8"/>
<line x1="1123.89" y1="1211.8" x2="1123.89" y2="1218.8"/>
<line x1="1195.18" y1="1211.8" x2="1195.18" y2="1225.8"/>
<line x1="1266.47" y1="1211.8" x2="1266.47" y2="1218.8"/>
<line x1="1337.76" y1="1211.8" x2="1337.76" y2="1225.8"/>
<line x1="1409.05" y1="1211.8" x2="1409.05" y2="1218.8"/>
<line x1="1480.34" y1="1211.8" x2="1480.34" y2="1225.8"/>
<line x1="1551.63" y1="1211.8" x2="1551.63" y2="1218.8"/>
<line x1="1622.92" y1="1211.8" x2="1622.92" y2="1225.8"/>
<line x1="1694.21" y1="1211.8" x2="1694.21" y2="1218.8"/>
<line x1="1765.5" y1="1211.8" x2="1765.5" y2="1225.8"/>
<line x1="1836.79" y1="1211.8" x2="1836.79" y2="1218.8"/>
<line x1="1908.08" y1="1211.8" x2="1908.08" y2="1225.8"/>
</g>
<g class="tb" font-size="39.5" fill="#000" text-anchor="end">
<text x="1029" y="1222.6">100</text>
<text x="1029" y="1065.9">110</text>
<text x="1029" y="909.2">120</text>
<text x="1029" y="752.5">130</text>
<text x="1029" y="595.8">140</text>
</g>
<g class="tb" font-size="39.5" fill="#000" text-anchor="middle">
<text x="1053.1" y="1264.5">20</text>
<text x="1195.68" y="1264.5">40</text>
<text x="1338.26" y="1264.5">60</text>
<text x="1480.84" y="1264.5">80</text>
<text x="1623.42" y="1264.5">100</text>
<text x="1766" y="1264.5">120</text>
<text x="1908.58" y="1264.5">140</text>
</g>
<text class="tb" font-size="45" transform="translate(953.3,942.2) rotate(-90) scale(0.85,1)">F /kN</text>
<text class="tb" x="1432.5" y="1328.5"><tspan font-size="40">Δ</tspan><tspan font-size="31"> /mm</tspan></text>
<g clip-path="url(#cpIn)">
<path d="M1129.3,1211.85 L1129.94,1207.87 L1130.6,1203.9 L1131.28,1199.93 L1131.96,1195.97 L1132.66,1192.01 L1133.37,1188.05 L1134.1,1184.1 L1134.83,1180.15 L1135.57,1176.2 L1136.32,1172.25 L1137.08,1168.3 L1137.85,1164.36 L1138.62,1160.42 L1139.39,1156.48 L1140.17,1152.54 L1140.95,1148.6 L1141.74,1144.66 L1142.53,1140.72 L1143.32,1136.79 L1144.1,1132.85 L1144.89,1128.91 L1145.68,1124.97 L1146.46,1121.03 L1147.24,1117.09 L1148.01,1113.15 L1148.78,1109.2 L1149.54,1105.26 L1150.3,1101.31 L1151.05,1097.36 L1151.79,1093.41 L1152.52,1089.45 L1153.24,1085.49 L1153.95,1081.53 L1154.65,1077.57 L1155.34,1073.6 L1156.02,1069.63 L1156.69,1065.66 L1157.36,1061.69 L1158.02,1057.72 L1158.68,1053.74 L1159.34,1049.77 L1159.99,1045.79 L1160.65,1041.82 L1161.31,1037.85 L1161.96,1033.87 L1162.62,1029.9 L1163.29,1025.93 L1163.96,1021.97 L1164.64,1018 L1165.33,1014.04 L1166.03,1010.09 L1166.75,1006.14 L1167.5,1002.2 L1168.28,998.27 L1169.1,994.35 L1169.95,990.44 L1170.85,986.55 L1171.8,982.67 L1172.81,978.81 L1173.88,974.97 L1175.01,971.14 L1176.21,967.34 L1177.49,963.57 L1178.84,959.81 L1180.27,956.08 L1181.76,952.38 L1183.33,948.7 L1184.96,945.05 L1186.67,941.43 L1188.44,937.84 L1190.28,934.28 L1192.19,930.74 L1194.15,927.25 L1196.19,923.78 L1198.28,920.35 L1200.44,916.95 L1202.65,913.59 L1204.93,910.27 L1207.26,906.98 L1209.65,903.74 L1212.1,900.53 L1214.6,897.36 L1217.15,894.24 L1219.76,891.15 L1222.42,888.11 L1225.12,885.12 L1227.88,882.17 L1230.69,879.26 L1233.54,876.41 L1236.44,873.6 L1239.39,870.84 L1242.38,868.13 L1245.41,865.47 L1248.49,862.86 L1251.61,860.31 L1254.76,857.81 L1257.96,855.36 L1261.19,852.97 L1264.46,850.63 L1267.77,848.36 L1271.11,846.14 L1274.48,843.98 L1277.89,841.88 L1281.32,839.84 L1284.79,837.86 L1288.29,835.95 L1291.82,834.09 L1295.37,832.28 L1298.95,830.54 L1302.56,828.84 L1306.19,827.2 L1309.84,825.61 L1313.52,824.07 L1317.22,822.57 L1320.94,821.12 L1324.68,819.72 L1328.44,818.35 L1332.22,817.03 L1336.02,815.75 L1339.83,814.51 L1343.66,813.3 L1347.5,812.13 L1351.36,810.99 L1355.23,809.89 L1359.11,808.81 L1363,807.77 L1366.9,806.75 L1370.81,805.76 L1374.73,804.79 L1378.65,803.84 L1382.59,802.92 L1386.52,802.01 L1390.46,801.13 L1394.41,800.26 L1398.36,799.4 L1402.3,798.56 L1406.25,797.74 L1410.2,796.92 L1414.16,796.12 L1418.11,795.33 L1422.06,794.55 L1426.02,793.78 L1429.97,793.02 L1433.93,792.28 L1437.88,791.54 L1441.84,790.82 L1445.8,790.1 L1449.76,789.39 L1453.72,788.7 L1457.68,788.01 L1461.65,787.34 L1465.61,786.67 L1469.57,786.01 L1473.54,785.35 L1477.5,784.71 L1481.47,784.07 L1485.44,783.45 L1489.4,782.82 L1493.37,782.21 L1497.34,781.6 L1501.31,781 L1505.28,780.4 L1509.25,779.81 L1513.22,779.23 L1517.19,778.65 L1521.17,778.07 L1525.14,777.5 L1529.11,776.93 L1533.09,776.37 L1537.06,775.82 L1541.04,775.26 L1545.01,774.71 L1548.99,774.16 L1552.96,773.62 L1556.94,773.08 L1560.91,772.53 L1564.89,772 L1568.87,771.46 L1572.85,770.93 L1576.82,770.39 L1580.8,769.86 L1584.78,769.33 L1588.76,768.79 L1592.74,768.26 L1596.72,767.73 L1600.7,767.2 L1604.67,766.66 L1608.65,766.13 L1612.63,765.59 L1616.61,765.06 L1620.59,764.52 L1624.57,763.98 L1628.55,763.43 L1632.53,762.89 L1636.51,762.34 L1640.49,761.79 L1644.47,761.23 L1648.45,760.67 L1652.43,760.11 L1656.41,759.54 L1660.39,758.97 L1664.37,758.39 L1668.34,757.81 L1672.32,757.23 L1676.3,756.64 L1680.28,756.05 L1684.26,755.46 L1688.24,754.87 L1692.22,754.28 L1696.2,753.69 L1700.18,753.1 L1704.16,752.52 L1708.14,751.93 L1712.12,751.35 L1716.1,750.78 L1720.09,750.2 L1724.07,749.64 L1728.05,749.08 L1732.04,748.52 L1736.02,747.97 L1740.01,747.44 L1743.99,746.91 L1747.98,746.38 L1751.97,745.87 L1755.96,745.37 L1759.95,744.88 L1763.94,744.41 L1767.93,743.94 L1771.93,743.49 L1775.92,743.05 L1779.92,742.63 L1783.92,742.22 L1787.92,741.83 L1791.92,741.45 L1795.92,741.09 L1799.92,740.74 L1803.92,740.41 L1807.93,740.08 L1811.93,739.76 L1815.94,739.44 L1819.94,739.14 L1823.95,738.83 L1827.96,738.53 L1831.97,738.23 L1835.97,737.93 L1839.98,737.62 L1843.99,737.32 L1847.99,737 L1852,736.69 L1856,736.36 L1860.01,736.03 L1864.01,735.68 L1868.01,735.32 L1872.01,734.95 L1876.01,734.56 L1880.01,734.16 L1884.01,733.73 L1888.01,733.29 L1892,732.83 L1895.99,732.34 L1899.99,731.83 L1903.97,731.3 L1907.96,730.74" fill="none" stroke="#00ff00" stroke-width="4.8" stroke-linejoin="round" mask="url(#ig)"/>
<rect x="1183.5" y="931.9" width="9" height="9" fill="#00ff00"/>
<rect x="1328.6" y="811.6" width="9" height="9" fill="#00ff00"/>
<rect x="1490" y="778.4" width="9" height="9" fill="#00ff00"/>
<rect x="1628.6" y="757.7" width="9" height="9" fill="#00ff00"/>
<rect x="1781.5" y="738" width="9" height="9" fill="#00ff00"/>
<rect x="1897.3" y="727" width="9" height="9" fill="#00ff00"/>
<path d="M1122.17,1211.83 L1122.78,1207.86 L1123.4,1203.89 L1124.03,1199.92 L1124.68,1195.95 L1125.34,1191.99 L1126.01,1188.02 L1126.69,1184.06 L1127.38,1180.1 L1128.08,1176.14 L1128.79,1172.18 L1129.51,1168.22 L1130.24,1164.27 L1130.97,1160.31 L1131.71,1156.36 L1132.45,1152.4 L1133.2,1148.45 L1133.96,1144.5 L1134.71,1140.54 L1135.47,1136.59 L1136.23,1132.64 L1137,1128.69 L1137.76,1124.73 L1138.52,1120.78 L1139.28,1116.83 L1140.04,1112.88 L1140.8,1108.92 L1141.55,1104.97 L1142.3,1101.01 L1143.05,1097.06 L1143.79,1093.1 L1144.52,1089.14 L1145.25,1085.18 L1145.97,1081.22 L1146.69,1077.26 L1147.39,1073.3 L1148.09,1069.34 L1148.78,1065.37 L1149.47,1061.41 L1150.14,1057.44 L1150.81,1053.47 L1151.47,1049.51 L1152.12,1045.54 L1152.76,1041.57 L1153.4,1037.6 L1154.03,1033.63 L1154.65,1029.66 L1155.26,1025.68 L1155.86,1021.71 L1156.46,1017.74 L1157.05,1013.77 L1157.64,1009.8 L1158.23,1005.83 L1158.84,1001.86 L1159.45,997.9 L1160.09,993.94 L1160.74,989.99 L1161.42,986.04 L1162.14,982.1 L1162.88,978.16 L1163.67,974.24 L1164.5,970.32 L1165.38,966.41 L1166.31,962.51 L1167.3,958.63 L1168.35,954.75 L1169.47,950.89 L1170.65,947.05 L1171.9,943.21 L1173.21,939.4 L1174.59,935.6 L1176.02,931.83 L1177.52,928.07 L1179.09,924.34 L1180.71,920.63 L1182.4,916.95 L1184.14,913.29 L1185.95,909.67 L1187.81,906.07 L1189.73,902.5 L1191.72,898.97 L1193.75,895.47 L1195.85,892 L1198,888.57 L1200.21,885.18 L1202.47,881.83 L1204.79,878.52 L1207.16,875.25 L1209.58,872.03 L1212.06,868.85 L1214.59,865.71 L1217.17,862.63 L1219.8,859.59 L1222.49,856.61 L1225.22,853.67 L1228,850.79 L1230.83,847.97 L1233.71,845.2 L1236.64,842.49 L1239.62,839.84 L1242.64,837.25 L1245.7,834.72 L1248.82,832.25 L1251.98,829.85 L1255.18,827.52 L1258.42,825.25 L1261.71,823.05 L1265.04,820.92 L1268.41,818.86 L1271.83,816.86 L1275.28,814.93 L1278.76,813.06 L1282.29,811.25 L1285.84,809.5 L1289.43,807.81 L1293.06,806.17 L1296.71,804.59 L1300.39,803.06 L1304.1,801.58 L1307.84,800.15 L1311.6,798.77 L1315.39,797.43 L1319.2,796.14 L1323.03,794.9 L1326.88,793.69 L1330.76,792.52 L1334.64,791.39 L1338.55,790.3 L1342.47,789.25 L1346.41,788.22 L1350.35,787.23 L1354.31,786.27 L1358.28,785.33 L1362.26,784.43 L1366.24,783.54 L1370.24,782.69 L1374.23,781.85 L1378.23,781.03 L1382.23,780.23 L1386.24,779.45 L1390.24,778.69 L1394.24,777.94 L1398.24,777.2 L1402.24,776.47 L1406.23,775.75 L1410.21,775.04 L1414.19,774.34 L1418.17,773.65 L1422.15,772.96 L1426.12,772.28 L1430.08,771.61 L1434.05,770.95 L1438.01,770.29 L1441.97,769.64 L1445.92,769 L1449.88,768.36 L1453.83,767.73 L1457.78,767.1 L1461.73,766.47 L1465.68,765.85 L1469.62,765.23 L1473.57,764.62 L1477.51,764.01 L1481.46,763.4 L1485.4,762.79 L1489.35,762.19 L1493.29,761.58 L1497.24,760.98 L1501.18,760.38 L1505.13,759.78 L1509.07,759.17 L1513.02,758.57 L1516.97,757.97 L1520.93,757.36 L1524.88,756.76 L1528.84,756.15 L1532.8,755.54 L1536.76,754.92 L1540.72,754.31 L1544.69,753.69 L1548.65,753.07 L1552.62,752.45 L1556.6,751.83 L1560.57,751.21 L1564.54,750.59 L1568.52,749.96 L1572.5,749.34 L1576.48,748.72 L1580.46,748.1 L1584.45,747.47 L1588.43,746.85 L1592.42,746.23 L1596.4,745.61 L1600.39,744.99 L1604.38,744.37 L1608.37,743.76 L1612.36,743.15 L1616.35,742.53 L1620.34,741.93 L1624.33,741.32 L1628.33,740.72 L1632.32,740.12 L1636.31,739.52 L1640.31,738.93 L1644.3,738.34 L1648.29,737.75 L1652.28,737.17 L1656.28,736.59 L1660.27,736.02 L1664.26,735.45 L1668.25,734.89 L1672.25,734.34 L1676.24,733.78 L1680.23,733.24 L1684.22,732.7 L1688.21,732.16 L1692.19,731.63 L1696.18,731.1 L1700.17,730.58 L1704.16,730.06 L1708.15,729.55 L1712.14,729.04 L1716.12,728.53 L1720.11,728.03 L1724.1,727.54 L1728.09,727.04 L1732.07,726.56 L1736.06,726.07 L1740.05,725.59 L1744.04,725.11 L1748.02,724.64 L1752.01,724.17 L1756,723.71 L1759.99,723.24 L1763.98,722.78 L1767.97,722.33 L1771.96,721.87 L1775.95,721.42 L1779.94,720.98 L1783.93,720.53 L1787.92,720.09 L1791.91,719.65 L1795.9,719.22 L1799.89,718.78 L1803.89,718.35 L1807.88,717.92 L1811.88,717.5 L1815.87,717.07 L1819.87,716.65 L1823.86,716.23 L1827.86,715.81 L1831.86,715.39 L1835.86,714.98 L1839.86,714.57 L1843.86,714.16 L1847.87,713.74 L1851.87,713.34 L1855.87,712.93 L1859.88,712.52 L1863.89,712.12 L1867.89,711.71 L1871.9,711.31 L1875.91,710.91 L1879.93,710.51 L1883.94,710.11 L1887.95,709.71 L1891.97,709.31 L1895.99,708.91 L1900,708.51 L1904.02,708.11 L1908.05,707.71" fill="none" stroke="#ff0000" stroke-width="4.8" stroke-linejoin="round" mask="url(#ir)"/>
<path d="M1188.5,899.45 L1193.75,908.95 L1183.25,908.95 Z" fill="#ff0000"/>
<path d="M1311.2,793.35 L1316.45,802.85 L1305.95,802.85 Z" fill="#ff0000"/>
<path d="M1469.9,758.65 L1475.15,768.15 L1464.65,768.15 Z" fill="#ff0000"/>
<path d="M1604.6,736.65 L1609.85,746.15 L1599.35,746.15 Z" fill="#ff0000"/>
<path d="M1744.5,718.35 L1749.75,727.85 L1739.25,727.85 Z" fill="#ff0000"/>
<path d="M1889.5,702.15 L1894.75,711.65 L1884.25,711.65 Z" fill="#ff0000"/>
<path d="M1114.17,1211.66 L1115.08,1207.73 L1115.97,1203.79 L1116.85,1199.85 L1117.72,1195.91 L1118.56,1191.97 L1119.4,1188.03 L1120.22,1184.08 L1121.03,1180.13 L1121.83,1176.18 L1122.61,1172.23 L1123.39,1168.28 L1124.15,1164.33 L1124.91,1160.37 L1125.65,1156.42 L1126.38,1152.46 L1127.11,1148.5 L1127.82,1144.54 L1128.53,1140.58 L1129.23,1136.62 L1129.93,1132.66 L1130.61,1128.69 L1131.29,1124.73 L1131.97,1120.76 L1132.63,1116.8 L1133.3,1112.83 L1133.96,1108.86 L1134.61,1104.9 L1135.26,1100.93 L1135.91,1096.96 L1136.56,1092.99 L1137.2,1089.02 L1137.84,1085.05 L1138.48,1081.08 L1139.12,1077.11 L1139.75,1073.15 L1140.39,1069.18 L1141.03,1065.21 L1141.67,1061.24 L1142.31,1057.27 L1142.95,1053.3 L1143.6,1049.33 L1144.24,1045.36 L1144.89,1041.4 L1145.55,1037.43 L1146.2,1033.46 L1146.86,1029.5 L1147.53,1025.53 L1148.2,1021.57 L1148.88,1017.6 L1149.56,1013.64 L1150.25,1009.68 L1150.95,1005.72 L1151.66,1001.76 L1152.37,997.8 L1153.09,993.84 L1153.82,989.89 L1154.56,985.93 L1155.31,981.98 L1156.07,978.02 L1156.84,974.07 L1157.62,970.12 L1158.41,966.18 L1159.22,962.23 L1160.03,958.29 L1160.87,954.34 L1161.71,950.4 L1162.57,946.46 L1163.44,942.53 L1164.32,938.59 L1165.23,934.66 L1166.16,930.74 L1167.11,926.82 L1168.09,922.91 L1169.1,919.01 L1170.14,915.12 L1171.23,911.24 L1172.35,907.38 L1173.52,903.54 L1174.74,899.71 L1176,895.9 L1177.33,892.12 L1178.71,888.35 L1180.15,884.61 L1181.65,880.9 L1183.22,877.21 L1184.86,873.55 L1186.58,869.93 L1188.37,866.33 L1190.23,862.77 L1192.16,859.25 L1194.16,855.76 L1196.24,852.32 L1198.38,848.92 L1200.6,845.56 L1202.88,842.26 L1205.23,839 L1207.65,835.79 L1210.14,832.64 L1212.69,829.54 L1215.31,826.5 L1218,823.52 L1220.75,820.61 L1223.57,817.75 L1226.44,814.97 L1229.39,812.25 L1232.39,809.6 L1235.46,807.02 L1238.58,804.51 L1241.75,802.07 L1244.98,799.7 L1248.26,797.4 L1251.59,795.16 L1254.97,793 L1258.39,790.91 L1261.85,788.88 L1265.36,786.93 L1268.9,785.05 L1272.48,783.23 L1276.1,781.49 L1279.75,779.82 L1283.42,778.22 L1287.13,776.69 L1290.86,775.23 L1294.62,773.84 L1298.4,772.52 L1302.2,771.27 L1306.02,770.08 L1309.86,768.95 L1313.72,767.88 L1317.59,766.86 L1321.48,765.89 L1325.39,764.97 L1329.31,764.09 L1333.24,763.25 L1337.18,762.45 L1341.13,761.68 L1345.09,760.94 L1349.06,760.23 L1353.03,759.54 L1357.01,758.87 L1360.99,758.22 L1364.97,757.59 L1368.96,756.96 L1372.95,756.34 L1376.94,755.73 L1380.92,755.12 L1384.91,754.52 L1388.9,753.93 L1392.89,753.34 L1396.88,752.76 L1400.87,752.18 L1404.85,751.61 L1408.84,751.05 L1412.83,750.49 L1416.82,749.93 L1420.81,749.38 L1424.8,748.83 L1428.79,748.29 L1432.78,747.75 L1436.77,747.22 L1440.76,746.69 L1444.75,746.17 L1448.74,745.65 L1452.73,745.13 L1456.72,744.61 L1460.71,744.1 L1464.7,743.6 L1468.69,743.09 L1472.68,742.59 L1476.67,742.09 L1480.67,741.6 L1484.66,741.1 L1488.65,740.61 L1492.64,740.12 L1496.63,739.64 L1500.62,739.15 L1504.61,738.67 L1508.6,738.19 L1512.6,737.71 L1516.59,737.23 L1520.58,736.75 L1524.57,736.28 L1528.56,735.8 L1532.55,735.33 L1536.55,734.85 L1540.54,734.38 L1544.53,733.91 L1548.52,733.43 L1552.51,732.96 L1556.5,732.49 L1560.49,732.02 L1564.49,731.54 L1568.48,731.07 L1572.47,730.59 L1576.46,730.12 L1580.45,729.64 L1584.44,729.16 L1588.43,728.69 L1592.43,728.21 L1596.42,727.72 L1600.41,727.24 L1604.4,726.76 L1608.39,726.27 L1612.38,725.78 L1616.37,725.29 L1620.36,724.79 L1624.35,724.3 L1628.34,723.8 L1632.33,723.3 L1636.32,722.79 L1640.31,722.28 L1644.3,721.77 L1648.29,721.26 L1652.28,720.74 L1656.27,720.22 L1660.26,719.7 L1664.25,719.17 L1668.24,718.65 L1672.23,718.12 L1676.22,717.59 L1680.21,717.06 L1684.2,716.53 L1688.19,716 L1692.18,715.46 L1696.17,714.93 L1700.16,714.4 L1704.15,713.86 L1708.14,713.33 L1712.13,712.79 L1716.12,712.26 L1720.11,711.73 L1724.1,711.19 L1728.09,710.66 L1732.08,710.13 L1736.07,709.61 L1740.06,709.08 L1744.06,708.55 L1748.05,708.03 L1752.04,707.51 L1756.03,706.99 L1760.02,706.48 L1764.02,705.97 L1768.01,705.46 L1772,704.95 L1775.99,704.45 L1779.99,703.95 L1783.98,703.45 L1787.98,702.96 L1791.97,702.47 L1795.97,701.99 L1799.96,701.51 L1803.96,701.04 L1807.95,700.57 L1811.95,700.11 L1815.95,699.65 L1819.95,699.2 L1823.94,698.76 L1827.94,698.32 L1831.94,697.88 L1835.94,697.46 L1839.94,697.04 L1843.94,696.62 L1847.94,696.22 L1851.94,695.82 L1855.94,695.42 L1859.95,695.04 L1863.95,694.66 L1867.95,694.29 L1871.96,693.93 L1875.96,693.58 L1879.97,693.24 L1883.98,692.91 L1887.98,692.58 L1891.99,692.26 L1896,691.96 L1900.01,691.66 L1904.02,691.37 L1908.03,691.1" fill="none" stroke="#0000ff" stroke-width="4.8" stroke-linejoin="round" mask="url(#ib)"/>
<path d="M1180.4,876.9 L1181.81,881.26 L1186.39,881.25 L1182.68,883.94 L1184.1,888.3 L1180.4,885.6 L1176.7,888.3 L1178.12,883.94 L1174.41,881.25 L1178.99,881.26 Z" fill="#0000ff"/>
<path d="M1318.9,759.4 L1320.31,763.76 L1324.89,763.75 L1321.18,766.44 L1322.6,770.8 L1318.9,768.1 L1315.2,770.8 L1316.62,766.44 L1312.91,763.75 L1317.49,763.76 Z" fill="#0000ff"/>
<path d="M1459.6,737.7 L1461.01,742.06 L1465.59,742.05 L1461.88,744.74 L1463.3,749.1 L1459.6,746.4 L1455.9,749.1 L1457.32,744.74 L1453.61,742.05 L1458.19,742.06 Z" fill="#0000ff"/>
<path d="M1603.9,720.9 L1605.31,725.26 L1609.89,725.25 L1606.18,727.94 L1607.6,732.3 L1603.9,729.6 L1600.2,732.3 L1601.62,727.94 L1597.91,725.25 L1602.49,725.26 Z" fill="#0000ff"/>
<path d="M1748.4,701.9 L1749.81,706.26 L1754.39,706.25 L1750.68,708.94 L1752.1,713.3 L1748.4,710.6 L1744.7,713.3 L1746.12,708.94 L1742.41,706.25 L1746.99,706.26 Z" fill="#0000ff"/>
<path d="M1889.5,686.4 L1890.91,690.76 L1895.49,690.75 L1891.78,693.44 L1893.2,697.8 L1889.5,695.1 L1885.8,697.8 L1887.22,693.44 L1883.51,690.75 L1888.09,690.76 Z" fill="#0000ff"/>
</g>
<g fill="#ff00ff" fill-opacity="0.5"><rect x="398.2" y="129" width="6.8" height="26"/><rect x="398.2" y="186" width="6.8" height="36.5"/><rect x="398.2" y="255.2" width="6.8" height="36.5"/><rect x="398.2" y="324.4" width="6.8" height="36.5"/><rect x="398.2" y="393.6" width="6.8" height="36.5"/><rect x="398.2" y="462.8" width="6.8" height="36.5"/><rect x="435" y="129.2" width="36.5" height="6.8"/><rect x="504" y="129.2" width="36.5" height="6.8"/><rect x="573" y="129.2" width="36.5" height="6.8"/><rect x="642" y="129.2" width="36.5" height="6.8"/><rect x="711" y="129.2" width="36.5" height="6.8"/><rect x="780" y="129.2" width="36.5" height="6.8"/><rect x="849" y="129.2" width="36.5" height="6.8"/><rect x="918" y="129.2" width="36.5" height="6.8"/><rect x="987" y="129.2" width="36.5" height="6.8"/><rect x="1056" y="129.2" width="36.5" height="6.8"/><rect x="1125" y="129.2" width="36.5" height="6.8"/><rect x="1194" y="129.2" width="36.5" height="6.8"/><rect x="1263" y="129.2" width="36.5" height="6.8"/><rect x="1332" y="129.2" width="36.5" height="6.8"/><rect x="1388.1" y="141.7" width="6.8" height="36.5"/><rect x="1388.1" y="210.9" width="6.8" height="36.5"/><rect x="1388.1" y="280.1" width="6.8" height="36.5"/><rect x="1388.1" y="349.3" width="6.8" height="36.5"/><rect x="1388.1" y="418.5" width="6.8" height="36.5"/><rect x="398.5" y="491.9" width="36.5" height="6.8"/><rect x="467.35" y="491.9" width="36.5" height="6.8"/><rect x="536.2" y="491.9" width="36.5" height="6.8"/><rect x="605.05" y="491.9" width="36.5" height="6.8"/><rect x="673.9" y="491.9" width="36.5" height="6.8"/><rect x="742.75" y="491.9" width="36.5" height="6.8"/><rect x="811.6" y="491.9" width="36.5" height="6.8"/><rect x="880.45" y="491.9" width="36.5" height="6.8"/><rect x="949.3" y="491.9" width="36.5" height="6.8"/><rect x="1018.15" y="491.9" width="36.5" height="6.8"/><rect x="1087" y="491.9" width="36.5" height="6.8"/><rect x="1155.85" y="491.9" width="36.5" height="6.8"/><rect x="1224.7" y="491.9" width="36.5" height="6.8"/><rect x="1293.55" y="491.9" width="36.5" height="6.8"/><path d="M1364,495.8 L1394,487.6 L1395.5,493.4 L1365.5,501.6 Z"/></g>
<g fill="#ff00ff"><rect x="888" y="551.6" width="36.5" height="6.8"/><rect x="957.27" y="551.6" width="36.5" height="6.8"/><rect x="1026.54" y="551.6" width="36.5" height="6.8"/><rect x="1095.81" y="551.6" width="36.5" height="6.8"/><rect x="1165.08" y="551.6" width="36.5" height="6.8"/><rect x="1234.35" y="551.6" width="36.5" height="6.8"/><rect x="1303.62" y="551.6" width="36.5" height="6.8"/><rect x="1372.89" y="551.6" width="36.5" height="6.8"/><rect x="1442.16" y="551.6" width="36.5" height="6.8"/><rect x="1511.43" y="551.6" width="36.5" height="6.8"/><rect x="1580.7" y="551.6" width="36.5" height="6.8"/><rect x="1649.97" y="551.6" width="36.5" height="6.8"/><rect x="1719.24" y="551.6" width="36.5" height="6.8"/><rect x="1788.51" y="551.6" width="36.5" height="6.8"/><rect x="1857.78" y="551.6" width="36.5" height="6.8"/><path d="M1924.5,552.9 L1930.5,549.2 L1944.5,571.7 L1938.5,575.4 Z"/><rect x="1938.4" y="607.6" width="6.8" height="36.5"/><rect x="1938.4" y="676.8" width="6.8" height="36.5"/><rect x="1938.4" y="746" width="6.8" height="36.5"/><rect x="1938.4" y="815.2" width="6.8" height="36.5"/><rect x="1938.4" y="884.4" width="6.8" height="36.5"/><rect x="1938.4" y="953.6" width="6.8" height="36.5"/><rect x="1938.4" y="1022.8" width="6.8" height="36.5"/><rect x="1938.4" y="1092" width="6.8" height="36.5"/><rect x="1938.4" y="1161.2" width="6.8" height="36.5"/><rect x="1938.4" y="1230.4" width="6.8" height="36.5"/><rect x="1938.4" y="1299.6" width="6.8" height="36.5"/><rect x="913" y="1342.6" width="36.5" height="6.8"/><rect x="982.2" y="1342.6" width="36.5" height="6.8"/><rect x="1051.4" y="1342.6" width="36.5" height="6.8"/><rect x="1120.6" y="1342.6" width="36.5" height="6.8"/><rect x="1189.8" y="1342.6" width="36.5" height="6.8"/><rect x="1259" y="1342.6" width="36.5" height="6.8"/><rect x="1328.2" y="1342.6" width="36.5" height="6.8"/><rect x="1397.4" y="1342.6" width="36.5" height="6.8"/><rect x="1466.6" y="1342.6" width="36.5" height="6.8"/><rect x="1535.8" y="1342.6" width="36.5" height="6.8"/><rect x="1605" y="1342.6" width="36.5" height="6.8"/><rect x="1674.2" y="1342.6" width="36.5" height="6.8"/><rect x="1743.4" y="1342.6" width="36.5" height="6.8"/><rect x="1812.6" y="1342.6" width="36.5" height="6.8"/><rect x="1881.8" y="1342.6" width="36.5" height="6.8"/><rect x="888.6" y="551" width="6.8" height="36.5"/><rect x="888.6" y="620.27" width="6.8" height="36.5"/><rect x="888.6" y="689.54" width="6.8" height="36.5"/><rect x="888.6" y="758.81" width="6.8" height="36.5"/><rect x="888.6" y="828.08" width="6.8" height="36.5"/><rect x="888.6" y="897.35" width="6.8" height="36.5"/><rect x="888.6" y="966.62" width="6.8" height="36.5"/><rect x="888.6" y="1035.89" width="6.8" height="36.5"/><rect x="888.6" y="1105.16" width="6.8" height="36.5"/><rect x="888.6" y="1174.43" width="6.8" height="36.5"/><rect x="888.6" y="1243.7" width="6.8" height="36.5"/><rect x="888.6" y="1312.97" width="6.8" height="36.5"/></g>
</svg></body></html>
